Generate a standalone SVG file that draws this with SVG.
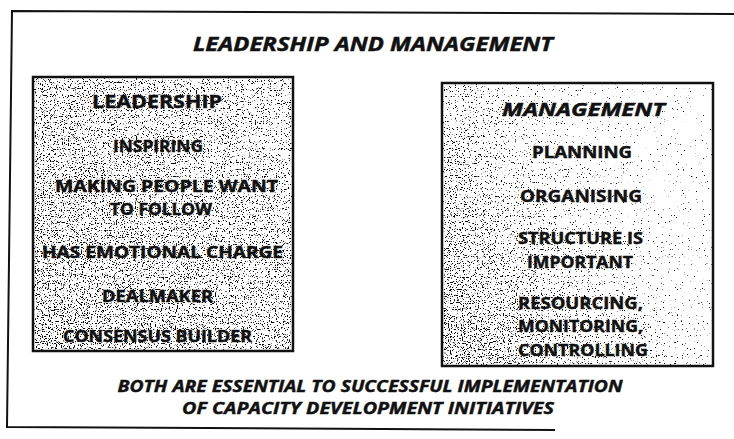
<svg xmlns="http://www.w3.org/2000/svg" width="734" height="439" viewBox="0 0 734 439">
  <style>
    text { font-family: "Open Sans", "Liberation Sans", sans-serif; font-weight: 700; fill: #111; stroke: #111; stroke-width: 0.45; text-anchor: middle; }
    .title { font-size: 19px; font-style: italic; }
    .head { font-size: 18px; }
    .headi { font-size: 18px; font-style: italic; }
    .item { font-size: 15.5px; }
    .foot { font-size: 16px; font-style: italic; }
    .frame { fill: none; stroke: #111; stroke-width: 2; stroke-linejoin: miter; }
    .box { fill: #fff; stroke: #111; stroke-width: 2.5; }
  </style>
  <defs>
    <filter id="speck" x="0" y="0" width="1" height="1" color-interpolation-filters="sRGB">
      <feTurbulence type="fractalNoise" baseFrequency="0.85" numOctaves="2" seed="11" result="noise"/>
      <feColorMatrix in="noise" type="matrix" values="0 0 0 0 0  0 0 0 0 0  0 0 0 0 0  1 0 0 0 0" result="n"/>
      <feComposite in="n" in2="SourceGraphic" operator="arithmetic" k1="0" k2="-12" k3="2.2" k4="3.0" result="a"/>
      <feColorMatrix in="a" type="matrix" values="0 0 0 0 0  0 0 0 0 0  0 0 0 0 0  0 0 0 1 0"/>
    </filter>
    <linearGradient id="gradR" x1="0" y1="0.75" x2="1" y2="0.15">
      <stop offset="0" stop-color="#000" stop-opacity="1"/>
      <stop offset="0.25" stop-color="#000" stop-opacity="0.75"/>
      <stop offset="0.6" stop-color="#000" stop-opacity="0.3"/>
      <stop offset="1" stop-color="#000" stop-opacity="0.05"/>
    </linearGradient>
    <linearGradient id="gradL" x1="0" y1="1" x2="1" y2="0">
      <stop offset="0" stop-color="#000" stop-opacity="1"/>
      <stop offset="0.5" stop-color="#000" stop-opacity="0.85"/>
      <stop offset="1" stop-color="#000" stop-opacity="0.7"/>
    </linearGradient>
  </defs>

  <rect x="0" y="0" width="734" height="439" fill="#fff"/>

  <g id="frame">
    <polyline class="frame" points="734,14 12,11 7,427 555,430"/>
  </g>

  <g id="title">
    <text class="title" x="373" y="51" textLength="360" lengthAdjust="spacingAndGlyphs">LEADERSHIP AND MANAGEMENT</text>
  </g>

  <g id="leadership">
    <rect class="box" x="33" y="77" width="260" height="274"/>
    <rect x="34.5" y="78.5" width="257" height="271" fill="url(#gradL)" filter="url(#speck)"/>
    <text class="head" x="157" y="108" textLength="130" lengthAdjust="spacingAndGlyphs">LEADERSHIP</text>
    <text class="item" x="158" y="152" textLength="90" lengthAdjust="spacingAndGlyphs">INSPIRING</text>
    <text class="item" x="166.5" y="192" textLength="223" lengthAdjust="spacingAndGlyphs">MAKING PEOPLE WANT</text>
    <text class="item" x="161" y="215" textLength="102" lengthAdjust="spacingAndGlyphs">TO FOLLOW</text>
    <text class="item" x="162.5" y="258" textLength="241" lengthAdjust="spacingAndGlyphs">HAS EMOTIONAL CHARGE</text>
    <text class="item" x="157.5" y="302" textLength="111" lengthAdjust="spacingAndGlyphs">DEALMAKER</text>
    <text class="item" x="157.5" y="342" textLength="189" lengthAdjust="spacingAndGlyphs">CONSENSUS BUILDER</text>
  </g>

  <g id="management">
    <rect class="box" x="442" y="83" width="271" height="283"/>
    <rect x="443.5" y="84.5" width="268" height="280" fill="url(#gradR)" filter="url(#speck)"/>
    <text class="headi" x="583.5" y="116" textLength="163" lengthAdjust="spacingAndGlyphs">MANAGEMENT</text>
    <text class="item" x="582" y="158" textLength="100" lengthAdjust="spacingAndGlyphs">PLANNING</text>
    <text class="item" x="581" y="202" textLength="122" lengthAdjust="spacingAndGlyphs">ORGANISING</text>
    <text class="item" x="580.5" y="244" textLength="125" lengthAdjust="spacingAndGlyphs">STRUCTURE IS</text>
    <text class="item" x="580" y="268" textLength="106" lengthAdjust="spacingAndGlyphs">IMPORTANT</text>
    <text class="item" x="580.5" y="309" textLength="125" lengthAdjust="spacingAndGlyphs">RESOURCING,</text>
    <text class="item" x="580.5" y="332" textLength="125" lengthAdjust="spacingAndGlyphs">MONITORING,</text>
    <text class="item" x="583" y="356" textLength="130" lengthAdjust="spacingAndGlyphs">CONTROLLING</text>
  </g>

  <g id="footer">
    <text class="foot" x="370" y="392" textLength="505" lengthAdjust="spacingAndGlyphs">BOTH ARE ESSENTIAL TO SUCCESSFUL IMPLEMENTATION</text>
    <text class="foot" x="368" y="414" textLength="372" lengthAdjust="spacingAndGlyphs">OF CAPACITY DEVELOPMENT INITIATIVES</text>
  </g>
</svg>
